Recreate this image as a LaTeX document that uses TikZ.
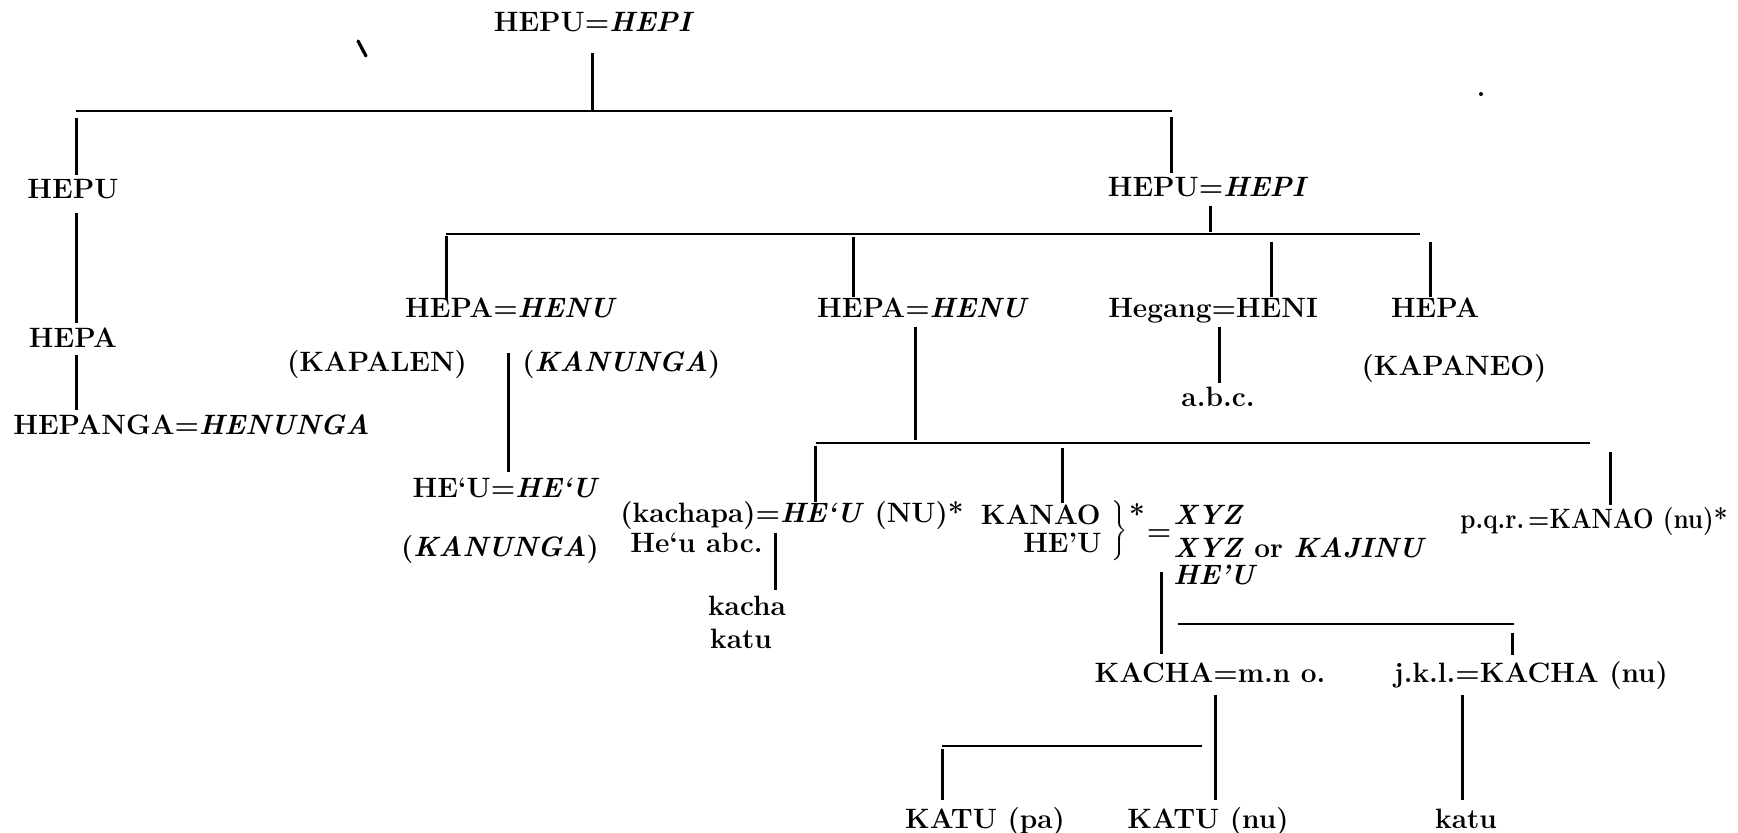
\documentclass[tikz,border=0pt]{standalone}
\tikzset{
  lbl/.style={font=\fontsize{14}{17}\selectfont\bfseries, inner sep=0pt},
  vline/.style={line width=1.5pt},
  hline/.style={line width=0.7pt},
}
\begin{document}
\begin{tikzpicture}[x=0.5pt,y=-0.5pt]
\useasboundingbox (0,0) rectangle (1738,833);
% ---------- labels ----------
\node[lbl,anchor=base] (t0) at (594,32) {HEPU=\textit{HEPI}};
\node[lbl,anchor=base] (l1) at (73,199) {HEPU};
\node[lbl,anchor=base] (l2) at (73,348) {HEPA};
\node[lbl,anchor=base west] (l3) at (13,435) {HEPANGA=\textit{HENUNGA}};
\node[lbl,anchor=base] (r0) at (1208,197) {HEPU=\textit{HEPI}};
\node[lbl,anchor=base] (a1) at (511,318) {HEPA=\textit{HENU}};
\node[lbl,anchor=base] (a2) at (377,372) {(KAPALEN)};
\node[lbl,anchor=base west] (a3) at (522,372) {(\textit{KANUNGA})};
\node[lbl,anchor=base] (a4) at (506,497) {HE\textquoteleft U=\textit{HE\textquoteleft U}};
\node[lbl,anchor=base] (a5) at (500,556) {(\textit{KANUNGA})};
\node[lbl,anchor=base] (b1) at (923,318) {HEPA=\textit{HENU}};
\node[lbl,anchor=base] (c1) at (1213,318) {Hegang=HENI};
\node[lbl,anchor=base] (c2) at (1218,407) {a.b.c.};
\node[lbl,anchor=base] (d1) at (1435,318) {HEPA};
\node[lbl,anchor=base] (d2) at (1454,376) {(KAPANEO)};
\node[lbl,anchor=base west] (e1) at (620,523) {(kachapa)=\textit{HE\textquoteleft U} (NU)*};
\node[lbl,anchor=base west] (e2) at (630,552) {He\textquoteleft u abc.};
\node[lbl,anchor=base] (e3) at (747,615) {kacha};
\node[lbl,anchor=base] (e4) at (741,648) {katu};
\node[lbl,anchor=base east] (f1) at (1101,524) {KANAO};
\node[lbl,anchor=base east] (f2) at (1102,552) {HE'U};
\node[lbl] (br) at (1118,532) {$\boldmath\left.\vrule height 12.5pt depth 12.5pt width 0pt\right\}$};
\node[lbl] (st) at (1137,514) {*};
\node[lbl] (eq) at (1159,535) {=};
\node[lbl,anchor=base west] (g1) at (1173,524) {\textit{XYZ}};
\node[lbl,anchor=base west] (g2) at (1173,557) {\textit{XYZ} or \textit{KAJINU}};
\node[lbl,anchor=base west] (g3) at (1173,584) {\textit{HE'U}};
\node[lbl,anchor=base west] (h1) at (1460,528) {\scalebox{0.87}[1]{p.q.r.\,=KANAO (nu)*}};
\node[lbl,anchor=base] (k1) at (1210,682) {KACHA=m.n o.};
\node[lbl,anchor=base] (k2) at (1531,682) {j.k.l.=KACHA (nu)};
\node[lbl,anchor=base] (m1) at (985,828) {KATU (pa)};
\node[lbl,anchor=base] (m2) at (1208,828) {KATU (nu)};
\node[lbl,anchor=base] (m3) at (1466,828) {katu};
% ---------- horizontal bars ----------
\coordinate (h1l) at (76,111);   \coordinate (h1r) at (1172,111);
\coordinate (h2l) at (446,234);  \coordinate (h2r) at (1420,234);
\coordinate (h3l) at (816,443);  \coordinate (h3r) at (1590,443);
\coordinate (h4l) at (1178,624); \coordinate (h4r) at (1514,624);
\coordinate (h5l) at (942,746);  \coordinate (h5r) at (1202,746);
\draw[hline] (h1l) -- (h1r);
\draw[hline] (h2l) -- (h2r);
\draw[hline] (h3l) -- (h3r);
\draw[hline] (h4l) -- (h4r);
\draw[hline] (h5l) -- (h5r);
% ---------- vertical connectors ----------
\coordinate (v0a) at (592,53);   \coordinate (v0b) at (592,110);
\coordinate (v1a) at (76,118);   \coordinate (v1b) at (76,175);
\coordinate (v2a) at (76,213);   \coordinate (v2b) at (76,323);
\coordinate (v3a) at (76,355);   \coordinate (v3b) at (76,410);
\coordinate (v4a) at (1171,117); \coordinate (v4b) at (1171,173);
\coordinate (v5a) at (1210,206); \coordinate (v5b) at (1210,232);
\coordinate (v6a) at (446,236);  \coordinate (v6b) at (446,300);
\coordinate (v7a) at (508,353);  \coordinate (v7b) at (508,472);
\coordinate (v8a) at (853,237);  \coordinate (v8b) at (853,297);
\coordinate (v9a) at (915,327);  \coordinate (v9b) at (915,440);
\coordinate (v10a) at (1271,242);\coordinate (v10b) at (1271,297);
\coordinate (v11a) at (1219,327);\coordinate (v11b) at (1219,383);
\coordinate (v12a) at (1430,242);\coordinate (v12b) at (1430,297);
\coordinate (v13a) at (815,446); \coordinate (v13b) at (815,502);
\coordinate (v14a) at (775,533); \coordinate (v14b) at (775,590);
\coordinate (v15a) at (1062,448);\coordinate (v15b) at (1062,503);
\coordinate (v16a) at (1161,572);\coordinate (v16b) at (1161,654);
\coordinate (v17a) at (1610,452);\coordinate (v17b) at (1610,505);
\coordinate (v18a) at (1512,633);\coordinate (v18b) at (1512,655);
\coordinate (v19a) at (1215,695);\coordinate (v19b) at (1215,800);
\coordinate (v20a) at (1462,695);\coordinate (v20b) at (1462,800);
\coordinate (v21a) at (942,749); \coordinate (v21b) at (942,800);
\foreach \n in {0,...,21}{\draw[vline] (v\n a) -- (v\n b);}
% ---------- scan marks ----------
\coordinate (s1a) at (358,41); \coordinate (s1b) at (366,56);
\draw[line width=1.6pt,line cap=round] (s1a) -- (s1b);
\fill (1481,94) circle (2);
\end{tikzpicture}
\end{document}
